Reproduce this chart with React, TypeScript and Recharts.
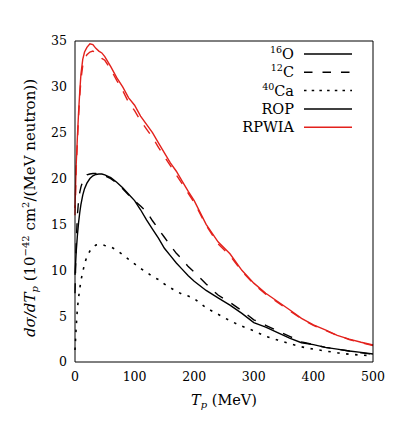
import { Line, LineChart, XAxis, YAxis } from "recharts"

// proton kinetic energy T_p (MeV)
const energy = [
  0, 2, 4, 6, 8, 10, 13, 16, 20, 25, 30, 35, 40, 45, 50, 60, 70, 80, 90, 100,
  110, 120, 130, 140, 150, 160, 170, 180, 190, 200, 220, 240, 260, 280, 300,
  320, 340, 360, 380, 400, 420, 440, 460, 480, 500
]

// ROP curves
const o16Rop = [
  9.5, 12.0, 13.8, 15.2, 16.3, 17.2, 18.2, 18.9, 19.5, 20.0, 20.3, 20.45, 20.5,
  20.5, 20.4, 20.1, 19.6, 19.0, 18.3, 17.6, 16.6, 15.5, 14.5, 13.5, 12.4, 11.6,
  10.8, 10.1, 9.4, 8.8, 7.8, 7.0, 6.2, 5.3, 4.3, 3.8, 3.2, 2.6, 2.1, 1.9, 1.6,
  1.4, 1.2, 1.05, 0.87
]
const c12Rop = [
  7.5, 13.0, 16.0, 17.6, 18.5, 19.1, 19.7, 20.1, 20.4, 20.5, 20.55, 20.55, 20.5,
  20.45, 20.3, 20.0, 19.5, 18.9, 18.2, 17.6, 17.0, 16.4, 15.4, 14.5, 13.6, 12.7,
  11.85, 11.2, 10.4, 9.8, 8.5, 7.3, 6.5, 5.6, 4.6, 4.0, 3.4, 2.8, 2.2, 1.9, 1.6,
  1.4, 1.2, 1.0, 0.85
]
const ca40Rop = [
  1.3, 3.8, 5.8, 7.0, 8.0, 8.9, 9.8, 10.7, 11.5, 12.1, 12.5, 12.75, 12.8, 12.8,
  12.7, 12.55, 12.2, 11.7, 11.2, 10.7, 10.2, 9.8, 9.3, 9.0, 8.5, 8.1, 7.7, 7.4,
  7.2, 6.9, 5.9, 5.2, 4.5, 3.9, 3.4, 2.8, 2.4, 2.0, 1.65, 1.4, 1.2, 1.0, 0.85,
  0.75, 0.69
]

// RPWIA curves
const o16Rpwia = [
  16.8, 21.5, 24.5, 27.2, 29.5, 31.4, 33.0, 33.8, 34.3, 34.7, 34.6, 34.2, 33.9,
  33.7, 33.3, 32.2, 31.0, 30.0, 28.8, 28.0, 26.8, 25.9, 25.0, 23.9, 22.8, 21.7,
  20.8, 19.7, 18.6, 17.6, 15.0, 13.1, 11.8, 10.0, 8.6, 7.5, 6.6, 5.7, 4.75,
  4.05, 3.5, 2.9, 2.5, 2.15, 1.85
]
const c12Rpwia = [
  16.0, 21.0, 24.0, 26.8, 29.0, 30.8, 32.3, 33.0, 33.5, 33.8, 33.9, 33.7, 33.4,
  33.1, 32.9, 31.9, 30.7, 29.6, 28.3, 27.4, 26.3, 25.4, 24.5, 23.4, 22.4, 21.4,
  20.4, 19.4, 18.4, 17.4, 14.9, 12.9, 11.6, 9.9, 8.5, 7.4, 6.5, 5.6, 4.7, 4.0,
  3.45, 2.9, 2.45, 2.1, 1.8
]

const xTicks = [0, 100, 200, 300, 400, 500]
const yTicks = [0, 5, 10, 15, 20, 25, 30, 35]

const data = energy.map((tp, i) => ({
  tp,
  o16Rop: o16Rop[i],
  c12Rop: c12Rop[i],
  ca40Rop: ca40Rop[i],
  o16Rpwia: o16Rpwia[i],
  c12Rpwia: c12Rpwia[i]
}))

const RED = "#e3211c"
const DASH = "10 10"
const DOT = "2.5 6.5"
const font = "DejaVu Serif"

const legendRows = [
  { sup: "16", name: "O", color: "#000", dash: undefined },
  { sup: "12", name: "C", color: "#000", dash: "8.5 10" },
  { sup: "40", name: "Ca", color: "#000", dash: "2.5 5.2" },
  { sup: "", name: "ROP", color: "#000", dash: undefined },
  { sup: "", name: "RPWIA", color: RED, dash: undefined }
]

const Overlay: React.FC = () => (
  <svg
    width={415}
    height={443}
    style={{ position: "absolute", left: 0, top: 0, pointerEvents: "none" }}
    fontFamily={font}
  >
    {legendRows.map((row, i) => {
      const y = 54 + i * 18.3
      return (
        <g key={row.name}>
          <text x={294} y={y + 5} textAnchor="end" fontSize={14.5}>
            {row.sup && (
              <tspan fontSize={9.5} dy={-6}>
                {row.sup}
              </tspan>
            )}
            <tspan dy={row.sup ? 6 : 0}>{row.name}</tspan>
          </text>
          <line
            x1={304}
            x2={352}
            y1={y}
            y2={y}
            stroke={row.color}
            strokeWidth={1.5}
            strokeDasharray={row.dash}
          />
        </g>
      )
    })}
    <text x={224} y={405} textAnchor="middle" fontSize={14.5}>
      <tspan fontStyle="italic">T</tspan>
      <tspan fontStyle="italic" fontSize={10} dy={3}>
        p
      </tspan>
      <tspan dy={-3}> (MeV)</tspan>
    </text>
    <text
      transform="translate(35,208) rotate(-90)"
      textAnchor="middle"
      fontSize={15}
    >
      <tspan fontStyle="italic">dσ/dT</tspan>
      <tspan fontStyle="italic" fontSize={10} dy={3}>
        p
      </tspan>
      <tspan dy={-3}> (10</tspan>
      <tspan fontSize={10} dy={-6}>
        −42
      </tspan>
      <tspan dy={6}> cm</tspan>
      <tspan fontSize={10} dy={-6}>
        2
      </tspan>
      <tspan dy={6}>/(MeV neutron))</tspan>
    </text>
  </svg>
)

const App: React.FC = () => {
  const tickStyle = { fill: "#000", fontSize: 12.5, fontFamily: font }
  return (
    <div style={{ position: "absolute", left: 0, top: 0, width: 415, height: 443 }}>
      <LineChart
        width={415}
        height={443}
        data={data}
        margin={{ top: 41, right: 42, left: 0, bottom: 0 }}
      >
        <XAxis
          dataKey="tp"
          type="number"
          domain={[0, 500]}
          ticks={xTicks}
          height={81}
          tickLine={false}
          tickMargin={4}
          stroke="#000"
          tick={tickStyle}
        />
        <XAxis
          xAxisId="bottomTicks"
          dataKey="tp"
          type="number"
          domain={[0, 500]}
          ticks={xTicks}
          mirror
          tick={false}
          axisLine={false}
          tickSize={5}
          stroke="#000"
        />
        <XAxis
          xAxisId="top"
          dataKey="tp"
          orientation="top"
          type="number"
          domain={[0, 500]}
          ticks={xTicks}
          mirror
          tick={false}
          tickSize={5}
          stroke="#000"
        />
        <YAxis
          type="number"
          domain={[0, 35]}
          ticks={yTicks}
          width={75}
          tickLine={false}
          stroke="#000"
          tick={tickStyle}
        />
        <YAxis
          yAxisId="leftTicks"
          type="number"
          domain={[0, 35]}
          ticks={yTicks}
          mirror
          tick={false}
          axisLine={false}
          tickSize={5}
          stroke="#000"
        />
        <YAxis
          yAxisId="right"
          orientation="right"
          type="number"
          domain={[0, 35]}
          ticks={yTicks}
          mirror
          tick={false}
          tickSize={5}
          stroke="#000"
        />
        <Line
          dataKey="o16Rpwia"
          stroke={RED}
          strokeWidth={1.4}
          dot={false}
          type="linear"
          isAnimationActive={false}
        />
        <Line
          dataKey="c12Rpwia"
          stroke={RED}
          strokeWidth={1.4}
          strokeDasharray={DASH}
          dot={false}
          type="linear"
          isAnimationActive={false}
        />
        <Line
          dataKey="o16Rop"
          stroke="#000"
          strokeWidth={1.4}
          dot={false}
          type="linear"
          isAnimationActive={false}
        />
        <Line
          dataKey="c12Rop"
          stroke="#000"
          strokeWidth={1.4}
          strokeDasharray={DASH}
          dot={false}
          type="linear"
          isAnimationActive={false}
        />
        <Line
          dataKey="ca40Rop"
          stroke="#000"
          strokeWidth={1.6}
          strokeDasharray={DOT}
          dot={false}
          type="linear"
          isAnimationActive={false}
        />
      </LineChart>
      <Overlay />
    </div>
  )
}

export default App
